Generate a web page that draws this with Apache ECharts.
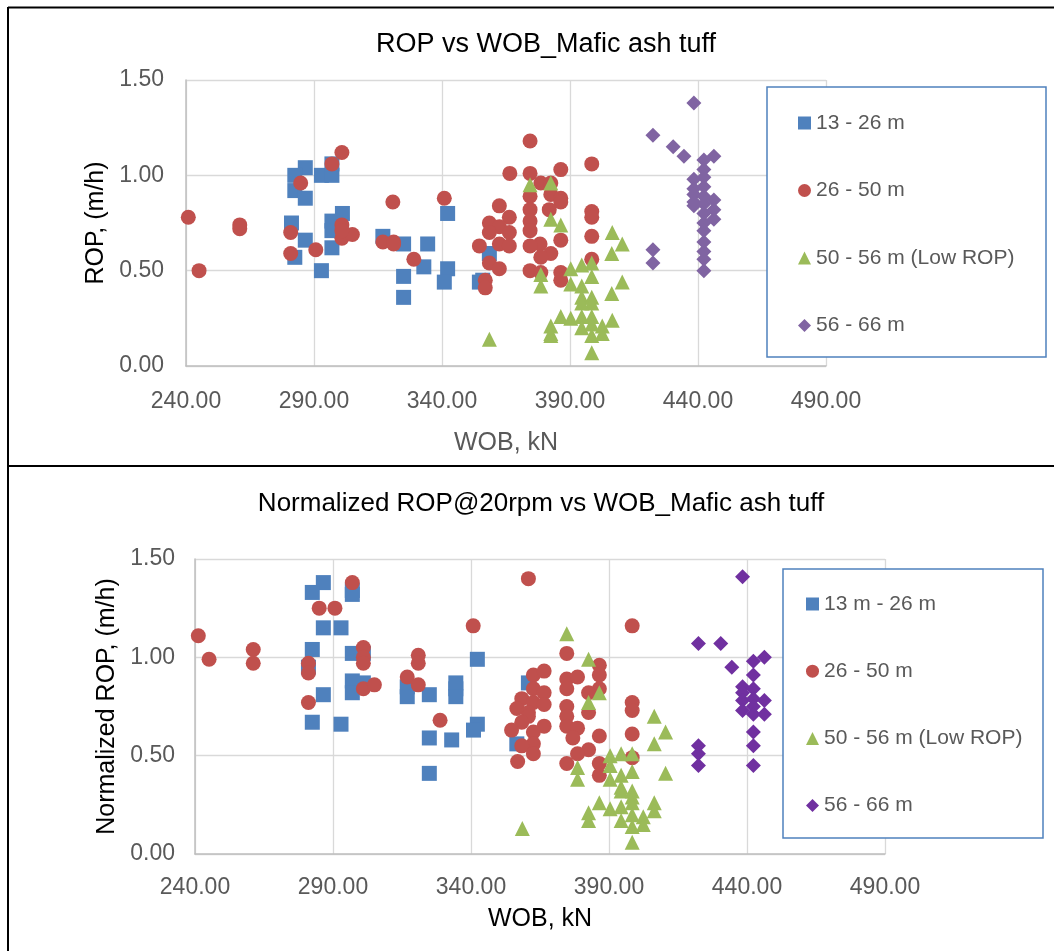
<!DOCTYPE html>
<html>
<head>
<meta charset="utf-8">
<title>ROP vs WOB_Mafic ash tuff</title>
<script src="https://cdn.jsdelivr.net/npm/echarts@6.0.0/dist/echarts.min.js"></script>
<style>
  html, body { margin: 0; padding: 0; background: #fff; }
  #chart { width: 1054px; height: 951px; }
</style>
</head>
<body>
<div id="chart"></div>
<script>
// axis ticks (same for both panels)
const xTicks = [240, 290, 340, 390, 440, 490]
const yTicks = [0, 0.5, 1.0, 1.5]

// legend labels
const topNames = ['13 - 26 m', '26 - 50 m', '50 - 56 m (Low ROP)', '56 - 66 m']
const botNames = ['13 m - 26 m', '26 - 50 m', '50 - 56 m (Low ROP)', '56 - 66 m']

// ---- top panel: ROP vs WOB ----  [WOB kN, ROP m/h]
const topBlue = [
  [286.6, 1.04], [282.5, 1.00], [282.5, 0.92], [286.6, 0.88], [292.9, 1.00], [297.0, 1.00],
  [297.0, 1.06], [281.2, 0.75], [301.1, 0.80], [297.0, 0.76], [297.0, 0.71], [286.6, 0.66],
  [282.5, 0.57], [297.0, 0.62], [292.9, 0.50], [316.9, 0.68], [325.0, 0.64], [334.4, 0.64],
  [332.9, 0.52], [325.0, 0.47], [325.0, 0.36], [342.2, 0.80], [342.2, 0.51], [340.9, 0.44],
  [354.6, 0.44], [358.5, 0.59], [355.9, 0.45]
]
const topRed = [
  [240.9, 0.78], [245.1, 0.50], [261.0, 0.74], [261.0, 0.72], [284.8, 0.96], [280.9, 0.70],
  [280.9, 0.59], [290.7, 0.61], [300.9, 1.12], [297.0, 1.06], [300.9, 0.74], [300.9, 0.67],
  [305.0, 0.69], [300.9, 0.71], [320.8, 0.86], [316.9, 0.65], [321.1, 0.65], [321.1, 0.64],
  [329.0, 0.56], [340.9, 0.88],
  [374.4, 1.18], [366.5, 1.01], [374.4, 1.01], [386.4, 1.03], [398.5, 1.06], [378.6, 0.96],
  [382.5, 0.96], [382.5, 0.90], [386.4, 0.88], [386.4, 0.86], [374.4, 0.89], [374.4, 0.82],
  [374.4, 0.76], [374.4, 0.71], [362.4, 0.84], [366.3, 0.78], [358.5, 0.75], [362.4, 0.73],
  [366.3, 0.70], [358.5, 0.70], [354.6, 0.63], [362.4, 0.64], [366.3, 0.63], [358.5, 0.54],
  [362.4, 0.51], [356.9, 0.45], [356.9, 0.41], [381.9, 0.82], [386.4, 0.66], [378.3, 0.64],
  [374.4, 0.63], [382.5, 0.59], [378.6, 0.57], [374.4, 0.50], [378.6, 0.49], [386.4, 0.49],
  [386.4, 0.45], [398.5, 0.81], [398.5, 0.78], [398.5, 0.68], [398.5, 0.56]
]
const topGreen = [
  [374.4, 0.95], [382.5, 0.96], [382.5, 0.77], [386.4, 0.74], [406.5, 0.70], [410.4, 0.64],
  [406.3, 0.59], [378.6, 0.48], [378.6, 0.42], [390.3, 0.51], [394.6, 0.53], [398.5, 0.54],
  [398.5, 0.47], [390.3, 0.43], [394.6, 0.42], [394.6, 0.36], [398.5, 0.36], [398.5, 0.33],
  [394.6, 0.33], [410.4, 0.44], [406.3, 0.38], [386.4, 0.26], [390.3, 0.25], [382.5, 0.21],
  [382.5, 0.17], [382.5, 0.16], [394.6, 0.26], [394.6, 0.20], [398.5, 0.26], [398.5, 0.22],
  [398.5, 0.16], [402.6, 0.21], [402.6, 0.17], [406.5, 0.24], [398.5, 0.07], [358.5, 0.14]
]
const topPurple = [
  [438.4, 1.38], [422.4, 1.21], [430.3, 1.15], [434.5, 1.10], [446.2, 1.10], [442.3, 1.08],
  [442.3, 1.03], [438.4, 0.98], [442.3, 0.99], [442.3, 0.94], [438.4, 0.93], [438.4, 0.90],
  [442.3, 0.89], [446.2, 0.87], [438.4, 0.84], [442.3, 0.85], [438.4, 0.86], [446.2, 0.82],
  [442.3, 0.80], [446.2, 0.77], [442.3, 0.75], [442.3, 0.71], [442.3, 0.65], [442.3, 0.60],
  [442.3, 0.56], [442.3, 0.50], [422.4, 0.61], [422.4, 0.54]
]

// ---- bottom panel: normalized ROP@20rpm vs WOB ----
const botBlue = [
  [286.5, 1.38], [282.5, 1.33], [297.0, 1.34], [297.0, 1.32], [286.5, 1.15], [292.9, 1.15],
  [282.5, 1.04], [297.0, 1.02], [301.0, 1.02], [281.1, 0.95], [297.0, 0.88], [301.0, 0.87],
  [297.0, 0.82], [286.5, 0.81], [316.9, 0.85], [316.9, 0.80], [324.9, 0.81], [334.5, 0.87],
  [334.5, 0.84], [334.5, 0.80], [342.3, 0.99], [342.3, 0.66], [340.9, 0.63], [282.5, 0.67],
  [292.9, 0.66], [324.9, 0.59], [333.0, 0.58], [324.9, 0.41], [360.8, 0.87], [356.6, 0.56]
]
const botRed = [
  [241.2, 1.11], [245.1, 0.99], [261.1, 1.04], [261.1, 0.97], [281.1, 0.97], [281.1, 0.92],
  [281.1, 0.77], [285.0, 1.25], [290.7, 1.25], [297.0, 1.38], [301.0, 1.05], [301.0, 1.00],
  [301.0, 0.97], [301.0, 0.84], [305.0, 0.86], [320.9, 1.01], [320.9, 0.97], [316.9, 0.90],
  [320.9, 0.86], [328.8, 0.68], [340.8, 1.16],
  [360.8, 1.40], [398.4, 1.16], [374.7, 1.02], [386.5, 0.96], [386.5, 0.91], [386.5, 0.84],
  [374.7, 0.89], [378.6, 0.90], [374.7, 0.84], [382.6, 0.82], [382.6, 0.72], [374.7, 0.75],
  [374.7, 0.70], [374.7, 0.65], [378.6, 0.64], [376.9, 0.59], [386.5, 0.60], [382.6, 0.53],
  [378.6, 0.51], [374.7, 0.46], [386.5, 0.46], [386.5, 0.40], [398.4, 0.77], [398.4, 0.73],
  [398.4, 0.61], [398.4, 0.49], [362.6, 0.91], [366.5, 0.93], [362.6, 0.84], [366.5, 0.82],
  [358.4, 0.79], [362.6, 0.77], [366.5, 0.76], [356.6, 0.74], [360.8, 0.72], [360.8, 0.70],
  [358.4, 0.67], [366.5, 0.65], [354.7, 0.63], [362.6, 0.62], [362.6, 0.56], [358.4, 0.55],
  [362.6, 0.51], [356.9, 0.47]
]
const botGreen = [
  [374.7, 1.12], [382.6, 0.99], [386.5, 0.82], [382.6, 0.77], [406.4, 0.70], [410.5, 0.62],
  [406.4, 0.56], [378.6, 0.44], [378.6, 0.38], [390.4, 0.50], [394.4, 0.51], [398.4, 0.51],
  [390.4, 0.45], [394.4, 0.40], [398.4, 0.42], [390.4, 0.38], [410.5, 0.41], [394.4, 0.34],
  [398.4, 0.32], [398.4, 0.29], [398.4, 0.26], [394.4, 0.32], [386.5, 0.26], [390.4, 0.23],
  [394.4, 0.24], [406.4, 0.26], [406.4, 0.22], [402.4, 0.19], [402.4, 0.15], [398.4, 0.20],
  [398.4, 0.14], [394.4, 0.17], [382.6, 0.21], [382.6, 0.17], [398.4, 0.06], [358.6, 0.13]
]
const botPurple = [
  [438.4, 1.41], [422.4, 1.07], [430.5, 1.07], [434.5, 0.95], [442.3, 0.98], [446.3, 1.00],
  [442.3, 0.91], [438.4, 0.85], [442.3, 0.84], [438.4, 0.82], [438.4, 0.78], [442.3, 0.79],
  [446.3, 0.78], [438.4, 0.73], [442.3, 0.75], [442.3, 0.71], [446.3, 0.71], [442.3, 0.62],
  [442.3, 0.55], [442.3, 0.45], [422.4, 0.55], [422.4, 0.51], [422.4, 0.45]
]

const grey = '#595959'
const font = 'Liberation Sans, Arial, sans-serif'

function xAxisOf(idx, nameColor, nameGap, margin) {
  return {
    type: 'value',
    gridIndex: idx,
    min: xTicks[0],
    max: xTicks[xTicks.length - 1],
    interval: xTicks[1] - xTicks[0],
    name: 'WOB, kN',
    nameLocation: 'middle',
    nameGap: nameGap,
    nameTextStyle: { color: nameColor, fontSize: 25 },
    axisLine: { lineStyle: { color: '#bfbfbf', width: 1.5 } },
    axisTick: { show: false },
    axisLabel: { color: grey, fontSize: 23, margin: margin, formatter: v => v.toFixed(2) },
    splitLine: { show: true, lineStyle: { color: '#d9d9d9', width: 1.3 } }
  }
}

function yAxisOf(idx, name, nameGap, margin) {
  return {
    type: 'value',
    gridIndex: idx,
    min: yTicks[0],
    max: yTicks[yTicks.length - 1],
    interval: yTicks[1] - yTicks[0],
    name: name,
    nameLocation: 'middle',
    nameGap: nameGap,
    nameTextStyle: { color: '#000', fontSize: 25 },
    axisLine: { show: true, lineStyle: { color: '#bfbfbf', width: 1.5 } },
    axisTick: { show: false },
    axisLabel: { color: grey, fontSize: 23, margin: margin, formatter: v => v.toFixed(2) },
    splitLine: { show: true, lineStyle: { color: '#d9d9d9', width: 1.3 } }
  }
}

function scatter(name, data, symbol, color, idx) {
  return {
    name: name,
    type: 'scatter',
    xAxisIndex: idx,
    yAxisIndex: idx,
    data: data,
    symbol: symbol,
    symbolSize: 15,
    itemStyle: { color: color, opacity: 1 },
    emphasis: { disabled: true }
  }
}

// bottom series get a trailing space so both legends keep their own colours
const botKeys = botNames.map(n => n + ' ')

function legendOf(names, left, top, gap) {
  return {
    orient: 'vertical',
    left: left,
    top: top,
    itemGap: gap,
    itemWidth: 13,
    itemHeight: 13,
    selectedMode: false,
    data: names,
    formatter: n => n.trim(),
    textStyle: { color: grey, fontSize: 21, lineHeight: 24 }
  }
}

const myChart = echarts.init(document.getElementById('chart'))
const option = {
  animation: false,
  backgroundColor: '#fff',
  textStyle: { fontFamily: font },
  title: [
    {
      text: 'ROP vs WOB_Mafic ash tuff',
      left: 541, top: 26, textAlign: 'center',
      textStyle: { color: '#000', fontSize: 27, fontWeight: 'normal' }
    },
    {
      text: 'Normalized ROP@20rpm vs WOB_Mafic ash tuff',
      left: 536, top: 486, textAlign: 'center',
      textStyle: { color: '#000', fontSize: 26, fontWeight: 'normal' }
    }
  ],
  grid: [
    { left: 186, top: 80, width: 640, height: 286 },
    { left: 195, top: 559, width: 690, height: 295 }
  ],
  xAxis: [xAxisOf(0, grey, 65, 24), xAxisOf(1, '#000', 53, 22)],
  yAxis: [
    yAxisOf(0, 'ROP, (m/h)', 76, 22),
    yAxisOf(1, 'Normalized ROP, (m/h)', 74, 20)
  ],
  legend: [
    legendOf(topNames, 793, 106, 43.5),
    legendOf(botKeys, 801, 587, 43.2)
  ],
  graphic: [
    // legend frames
    { type: 'rect', z: 3, shape: { x: 767, y: 87, width: 279, height: 270 },
      style: { fill: '#fff', stroke: '#4f81bd', lineWidth: 1.5 } },
    { type: 'rect', z: 3, shape: { x: 783, y: 569, width: 260, height: 269 },
      style: { fill: '#fff', stroke: '#4f81bd', lineWidth: 1.5 } },
    // panel frames
    { type: 'line', z: 5, shape: { x1: 8, y1: 7.5, x2: 1054, y2: 7.5 }, style: { stroke: '#000', lineWidth: 2 } },
    { type: 'line', z: 5, shape: { x1: 8, y1: 7, x2: 8, y2: 951 }, style: { stroke: '#000', lineWidth: 2 } },
    { type: 'line', z: 5, shape: { x1: 8, y1: 466, x2: 1054, y2: 466 }, style: { stroke: '#000', lineWidth: 2 } }
  ],
  series: [
    scatter(topNames[0], topBlue, 'rect', '#4f81bd', 0),
    scatter(topNames[1], topRed, 'circle', '#c0504d', 0),
    scatter(topNames[2], topGreen, 'triangle', '#9bbb59', 0),
    scatter(topNames[3], topPurple, 'diamond', '#8064a2', 0),
    scatter(botKeys[0], botBlue, 'rect', '#4f81bd', 1),
    scatter(botKeys[1], botRed, 'circle', '#c0504d', 1),
    scatter(botKeys[2], botGreen, 'triangle', '#9bbb59', 1),
    scatter(botKeys[3], botPurple, 'diamond', '#7030a0', 1)
  ]
}
option && myChart.setOption(option)
</script>
</body>
</html>
